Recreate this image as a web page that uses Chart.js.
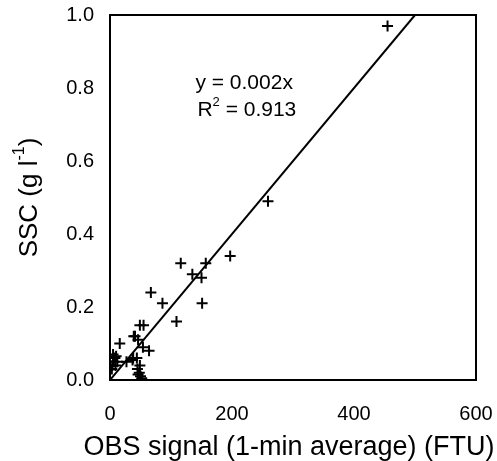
<!DOCTYPE html>
<html lang="en">
<head>
  <meta charset="UTF-8">
  <title>SSC vs OBS</title>
  <script src="https://cdn.jsdelivr.net/npm/chart.js"></script>
  <style>
    html, body { margin: 0; padding: 0; background: #fff; }
    #wrap { width: 497px; height: 461px; }
  </style>
</head>
<body>
  <div id="wrap"><canvas id="myChart"></canvas></div>

  <script>
    // OBS signal (FTU) and SSC (g/l)
    const obs = [455, 259, 197, 116, 157, 135, 150, 67, 86, 151, 109, 49, 55, 41, 39, 46, 16, 64, 54,
                 5, 8, 10, 4, 12, 6, 27, 37, 44, 38, 45, 48, 50, 47, 52, 46, 3, 9, 49];
    const ssc = [0.97, 0.49, 0.34, 0.32, 0.32, 0.29, 0.28, 0.24, 0.21, 0.21, 0.16, 0.15, 0.15, 0.12, 0.12, 0.11, 0.10, 0.08, 0.09,
                 0.07, 0.06, 0.065, 0.04, 0.05, 0.05, 0.05, 0.055, 0.06, 0.06, 0.03, 0.02, 0.01, 0.0, 0.005, 0.015, 0.03, 0.04, 0.04];
    const slope = 0.002;
    const r2 = 0.913;
    const xTicks = [0, 200, 400, 600];
    const yTicks = [0.0, 0.2, 0.4, 0.6, 0.8, 1.0];
    const xTitle = 'OBS signal (1-min average) (FTU)';

    const FONT = '"Liberation Sans", Arial, sans-serif';

    const points = obs.map((x, i) => ({x: x, y: ssc[i]}));
    const fitLine = [{x: 0, y: 0}, {x: 1 / slope, y: 1}];

    const extras = {
      id: 'extras',
      afterDraw(chart) {
        const {ctx, chartArea: a} = chart;
        ctx.save();
        // frame
        ctx.strokeStyle = '#000';
        ctx.lineWidth = 2;
        ctx.strokeRect(a.left, a.top, a.right - a.left, a.bottom - a.top);

        // equation text
        ctx.fillStyle = '#000';
        ctx.font = '21px ' + FONT;
        ctx.textBaseline = 'middle';
        ctx.textAlign = 'left';
        const xs = chart.scales.x, ys = chart.scales.y;
        const tx = xs.getPixelForValue(140);
        ctx.fillText('y = ' + slope + 'x', tx, ys.getPixelForValue(0.813));
        const ry = ys.getPixelForValue(0.74);
        ctx.fillText('R', tx + 2, ry);
        let w = ctx.measureText('R').width;
        ctx.font = '13px ' + FONT;
        ctx.fillText('2', tx + 2 + w, ry - 7);
        const w2 = ctx.measureText('2').width;
        ctx.font = '21px ' + FONT;
        ctx.fillText(' = ' + r2, tx + 2 + w + w2, ry);

        // x-axis title (drawn here so it is not squeezed to the axis width)
        ctx.font = '27px ' + FONT;
        ctx.textAlign = 'center';
        ctx.fillText(xTitle, (a.left + a.right) / 2 - 4, 448);

        // y-axis title with superscript
        ctx.textAlign = 'left';
        ctx.translate(30, (a.top + a.bottom) / 2);
        ctx.rotate(-Math.PI / 2);
        ctx.font = '26px ' + FONT;
        const p1 = 'SSC (g l', p2 = '-1', p3 = ')';
        const w1 = ctx.measureText(p1).width;
        const w3 = ctx.measureText(p3).width;
        ctx.font = '16px ' + FONT;
        const ws = ctx.measureText(p2).width;
        let x0 = -(w1 + ws + w3) / 2;
        ctx.font = '26px ' + FONT;
        ctx.fillText(p1, x0, 0);
        ctx.font = '16px ' + FONT;
        ctx.fillText(p2, x0 + w1, -10);
        ctx.font = '26px ' + FONT;
        ctx.fillText(p3, x0 + w1 + ws, 0);
        ctx.restore();
      }
    };

    new Chart(document.getElementById('myChart'), {
      type: 'scatter',
      data: {
        datasets: [
          {
            label: 'SSC',
            data: points,
            pointStyle: 'cross',
            pointRadius: 5.5,
            pointBorderWidth: 2,
            borderColor: '#000',
            backgroundColor: '#000',
          },
          {
            label: 'fit',
            type: 'line',
            data: fitLine,
            borderColor: '#000',
            borderWidth: 2,
            pointRadius: 0,
            fill: false,
          }
        ]
      },
      options: {
        responsive: true,
        maintainAspectRatio: false,
        animation: false,
        layout: {padding: {left: 0, right: 21, top: 15, bottom: 0}},
        plugins: {
          legend: {display: false},
          tooltip: {enabled: false}
        },
        scales: {
          x: {
            type: 'linear',
            min: 0,
            max: 600,
            afterBuildTicks: s => { s.ticks = xTicks.map(v => ({value: v})); },
            afterFit: s => { s.height = 81; s.paddingLeft = 0; s.paddingRight = 0; },
            grid: {display: false, drawTicks: true, tickLength: 6, tickColor: '#000', tickWidth: 2},
            border: {display: true, color: '#000', width: 2},
            ticks: {color: '#000', font: {family: FONT, size: 20}, padding: 16, maxRotation: 0}
          },
          y: {
            type: 'linear',
            min: 0,
            max: 1,
            afterBuildTicks: s => { s.ticks = yTicks.map(v => ({value: v})); },
            afterFit: s => { s.width = 110; s.paddingTop = 0; s.paddingBottom = 0; },
            grid: {display: false, drawTicks: true, tickLength: 6, tickColor: '#000', tickWidth: 2},
            border: {display: true, color: '#000', width: 2},
            ticks: {color: '#000', font: {family: FONT, size: 20}, padding: 10,
                    callback: v => v.toFixed(1)}
          }
        }
      },
      plugins: [extras]
    });
  </script>
</body>
</html>
